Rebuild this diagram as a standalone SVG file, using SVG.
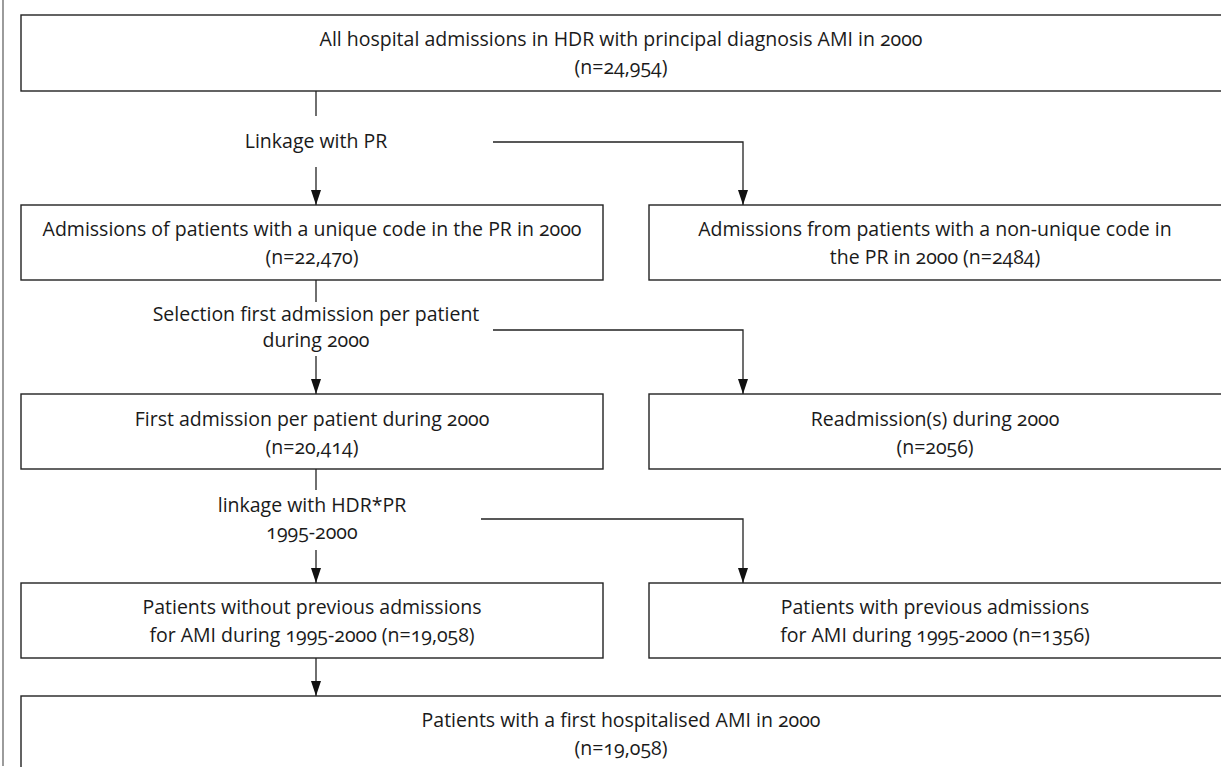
<svg xmlns="http://www.w3.org/2000/svg" width="1221" height="767" viewBox="0 0 1221 767">
<style>
  .box { fill: #ffffff; stroke: #222222; stroke-width: 1.4; }
  .ln { fill: none; stroke: #222222; stroke-width: 1.3; }
  text { font-family: "Open Sans", "Liberation Sans", sans-serif; font-size: 19.5px; fill: #1a1a1a; text-anchor: middle; font-variant-numeric: oldstyle-nums; }
</style>
<defs>
  <marker id="ah" markerWidth="15" markerHeight="10" refX="15" refY="5" orient="auto" markerUnits="userSpaceOnUse" viewBox="0 0 15 10">
    <path d="M0,0 L15,5 L0,10 Z" fill="#111111"/>
  </marker>
</defs>
<rect x="0" y="0" width="1221" height="767" fill="#ffffff"/>
<line x1="3" y1="0" x2="3" y2="766" stroke="#666666" stroke-width="1.3"/>

<g id="n1">
  <rect class="box" x="21" y="15" width="1215" height="76"/>
  <text x="621" y="46">All hospital admissions in HDR with principal diagnosis AMI in 2000</text>
  <text x="621" y="74">(n=24,954)</text>
</g>
<g id="n2">
  <rect class="box" x="21" y="205" width="582" height="75"/>
  <text x="312" y="236">Admissions of patients with a unique code in the PR in 2000</text>
  <text x="312" y="264">(n=22,470)</text>
</g>
<g id="n3">
  <rect class="box" x="649" y="205" width="590" height="75"/>
  <text x="935" y="236">Admissions from patients with a non-unique code in</text>
  <text x="935" y="264">the PR in 2000 (n=2484)</text>
</g>
<g id="n4">
  <rect class="box" x="21" y="394" width="582" height="75"/>
  <text x="312" y="426">First admission per patient during 2000</text>
  <text x="312" y="454">(n=20,414)</text>
</g>
<g id="n5">
  <rect class="box" x="649" y="394" width="590" height="75"/>
  <text x="935" y="426">Readmission(s) during 2000</text>
  <text x="935" y="454">(n=2056)</text>
</g>
<g id="n6">
  <rect class="box" x="21" y="583" width="582" height="75"/>
  <text x="312" y="614">Patients without previous admissions</text>
  <text x="312" y="642">for AMI during 1995-2000 (n=19,058)</text>
</g>
<g id="n7">
  <rect class="box" x="649" y="583" width="590" height="75"/>
  <text x="935" y="614">Patients with previous admissions</text>
  <text x="935" y="642">for AMI during 1995-2000 (n=1356)</text>
</g>
<g id="n8">
  <rect class="box" x="21" y="696" width="1215" height="90"/>
  <text x="621" y="727">Patients with a first hospitalised AMI in 2000</text>
  <text x="621" y="755">(n=19,058)</text>
</g>

<g id="connectors">
  <line class="ln" x1="316" y1="91" x2="316" y2="116"/>
  <text x="316" y="148">Linkage with PR</text>
  <path class="ln" d="M316,167 V205" marker-end="url(#ah)"/>
  <path class="ln" d="M493,142 H743 V205" marker-end="url(#ah)"/>

  <line class="ln" x1="316" y1="280" x2="316" y2="302"/>
  <text x="316" y="321">Selection first admission per patient</text>
  <text x="316" y="347">during 2000</text>
  <path class="ln" d="M316,356 V394" marker-end="url(#ah)"/>
  <path class="ln" d="M493,330 H743 V394" marker-end="url(#ah)"/>

  <line class="ln" x1="316" y1="469" x2="316" y2="490"/>
  <text x="312" y="512">linkage with HDR*PR</text>
  <text x="312" y="539">1995-2000</text>
  <path class="ln" d="M316,550 V583" marker-end="url(#ah)"/>
  <path class="ln" d="M481,519 H743 V583" marker-end="url(#ah)"/>

  <path class="ln" d="M316,658 V696" marker-end="url(#ah)"/>
</g>
</svg>
